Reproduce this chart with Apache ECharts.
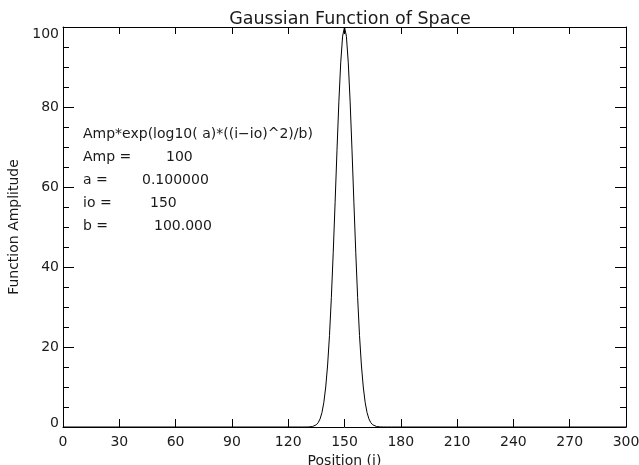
<!DOCTYPE html>
<html>
<head>
<meta charset="utf-8">
<script src="https://cdn.jsdelivr.net/npm/echarts@6/dist/echarts.min.js"></script>
<style>html,body{margin:0;padding:0;background:#fff}#c{width:639px;height:465px}</style>
</head>
<body>
<div id="c"></div>
<script>
const positions = [0, 125, 126, 127, 128, 129, 130, 131, 132, 133, 134, 135, 136, 137, 138, 139, 140, 141, 142, 143, 144, 145, 146, 147, 148, 149, 150, 151, 152, 153, 154, 155, 156, 157, 158, 159, 160, 161, 162, 163, 164, 165, 166, 167, 168, 169, 170, 171, 172, 173, 174, 175, 300];
const amplitude = [0, 0, 0, 0, 0, 0, 0.01, 0.02, 0.06, 0.13, 0.28, 0.56, 1.10, 2.04, 3.63, 6.17, 10.0, 15.5, 22.9, 32.4, 43.7, 56.2, 69.2, 81.3, 91.2, 97.7, 100, 97.7, 91.2, 81.3, 69.2, 56.2, 43.7, 32.4, 22.9, 15.5, 10.0, 6.17, 3.63, 2.04, 1.10, 0.56, 0.28, 0.13, 0.06, 0.02, 0.01, 0, 0, 0, 0, 0, 0];
const xTicks = [0, 30, 60, 90, 120, 150, 180, 210, 240, 270, 300];
const yTicks = [0, 20, 40, 60, 80, 100];
const titleText = 'Gaussian Function of Space';
const xName = 'Position (i)';
const yName = 'Function Amplitude';
const formulaText = 'Amp*exp(log10( a)*((i\u2212io)^2)/b)';
const paramLabels = ['Amp =', 'a =', 'io =', 'b ='];
const paramValues = ['100', '0.100000', '150', '100.000'];

const FONT = 'DejaVu Sans';
const TXT = '#1a1a1a';
const FS = 14;
const valueX = [166, 142, 150, 154];
const chart = echarts.init(document.getElementById('c'), null, {renderer: 'canvas'});

const lineStyle = {color: '#000', width: 1};
const axisLine = {show: true, onZero: false, lineStyle: lineStyle};
const option = {
  animation: false,
  backgroundColor: '#fff',
  title: {
    text: titleText, left: 345, top: 5, textAlign: 'center',
    textStyle: {fontFamily: FONT, fontSize: 17.5, fontWeight: 'normal', color: TXT}
  },
  grid: {left: 63, right: 13, top: 27, bottom: 38, containLabel: false, outerBoundsMode: 'none'},
  xAxis: [{
    type: 'value', min: xTicks[0], max: xTicks[xTicks.length - 1], interval: 30,
    name: xName, nameLocation: 'middle', nameGap: 23,
    nameTextStyle: {fontFamily: FONT, fontSize: FS, color: TXT},
    axisLine: axisLine,
    axisTick: {show: true, inside: true, length: 8, lineStyle: lineStyle},
    axisLabel: {fontFamily: FONT, fontSize: FS, color: TXT, margin: 8},
    splitLine: {show: false}
  }, {
    type: 'value', position: 'top', min: xTicks[0], max: xTicks[xTicks.length - 1], interval: 30,
    axisLine: axisLine,
    axisTick: {show: true, inside: true, length: 7, lineStyle: lineStyle},
    axisLabel: {show: false}, splitLine: {show: false}
  }],
  yAxis: [{
    type: 'value', min: yTicks[0], max: yTicks[yTicks.length - 1], interval: 20,
    name: yName, nameLocation: 'middle', nameGap: 40,
    nameTextStyle: {fontFamily: FONT, fontSize: FS, color: TXT},
    axisLine: axisLine,
    axisTick: {show: true, inside: true, length: 11, lineStyle: lineStyle},
    minorTick: {show: true, splitNumber: 4, length: 6, lineStyle: lineStyle},
    axisLabel: {
      fontFamily: FONT, fontSize: FS, color: TXT, margin: 4,
      formatter: function (v) {
        if (v === yTicks[yTicks.length - 1]) return '{t|' + v + '}';
        if (v === yTicks[0]) return '{b|' + v + '}';
        return '' + v;
      },
      rich: {
        t: {fontFamily: FONT, fontSize: FS, color: TXT, padding: [14, 0, 0, 0]},
        b: {fontFamily: FONT, fontSize: FS, color: TXT, padding: [0, 0, 7, 0]}
      }
    },
    splitLine: {show: false}
  }, {
    type: 'value', position: 'right', min: yTicks[0], max: yTicks[yTicks.length - 1], interval: 20,
    axisLine: axisLine,
    axisTick: {show: true, inside: true, length: 11, lineStyle: lineStyle},
    minorTick: {show: true, splitNumber: 4, length: 6, lineStyle: lineStyle},
    axisLabel: {show: false}, splitLine: {show: false}
  }],
  series: [{
    type: 'line',
    data: positions.map((p, i) => [p, amplitude[i]]),
    symbol: 'none', smooth: false,
    lineStyle: {color: '#000', width: 1},
    z: 5
  }],
  graphic: [{
    type: 'text', left: 83, top: 127,
    style: {text: formulaText, font: FS + 'px "DejaVu Sans"', fill: TXT}
  }].concat(paramLabels.map((t, i) => ({
    type: 'text', left: 83, top: 150 + i * 23,
    style: {text: t, font: FS + 'px "DejaVu Sans"', fill: TXT}
  }))).concat(paramValues.map((t, i) => ({
    type: 'text', left: valueX[i], top: 150 + i * 23,
    style: {text: t, font: FS + 'px "DejaVu Sans"', fill: TXT}
  })))
};
chart.setOption(option);
</script>
</body>
</html>
